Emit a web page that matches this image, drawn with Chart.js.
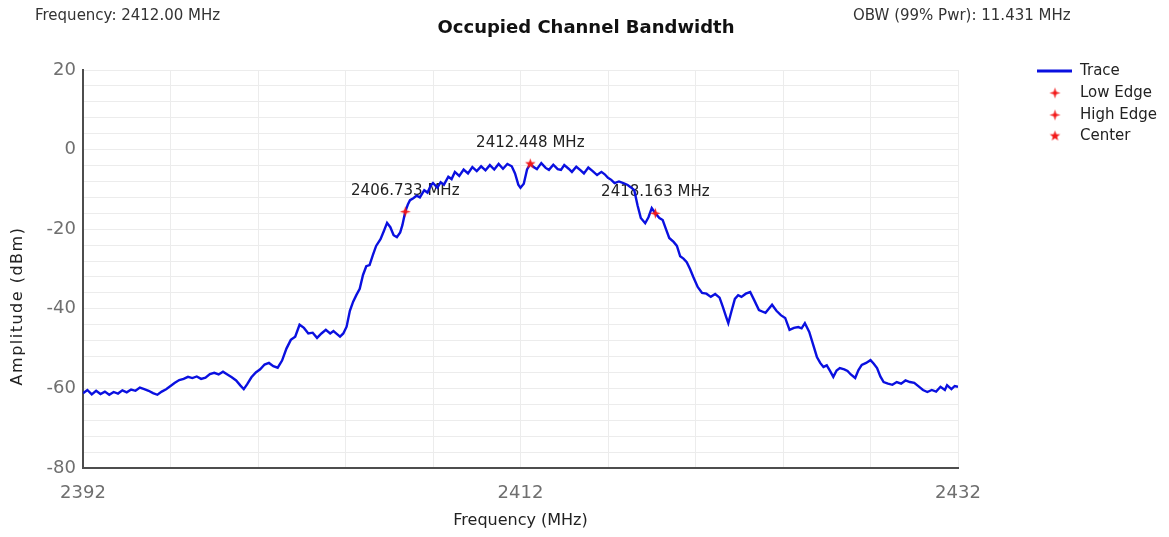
<!DOCTYPE html>
<html>
<head>
<meta charset="utf-8">
<title>Occupied Channel Bandwidth</title>
<script src="https://cdn.jsdelivr.net/npm/chart.js@4.4.1/dist/chart.umd.min.js"></script>
<style>
  body { margin: 0; background: #fff; }
  #wrap { width: 1169px; height: 537px; }
</style>
</head>
<body>
<div id="wrap"><canvas id="obw-chart" width="1169" height="537"></canvas></div>
<script>
// Trace (MHz, dBm)
const traceFreq = [
  2392.0, 2392.2, 2392.4, 2392.6, 2392.8, 2393.0, 2393.2, 2393.4, 2393.6, 2393.8,
  2394.0, 2394.2, 2394.4, 2394.6, 2394.8, 2395.0, 2395.2, 2395.4, 2395.6, 2395.8,
  2396.0, 2396.2, 2396.4, 2396.6, 2396.8, 2397.0, 2397.2, 2397.4, 2397.6, 2397.8,
  2398.0, 2398.2, 2398.4, 2398.6, 2398.8, 2399.0, 2399.2, 2399.35, 2399.5, 2399.7,
  2399.9, 2400.1, 2400.3, 2400.5, 2400.7, 2400.9, 2401.1, 2401.3, 2401.5, 2401.7,
  2401.9, 2402.1, 2402.3, 2402.5, 2402.7, 2402.9, 2403.1, 2403.3, 2403.45, 2403.6,
  2403.75, 2403.9, 2404.05, 2404.2, 2404.35, 2404.5, 2404.65, 2404.8, 2404.95, 2405.1,
  2405.25, 2405.4, 2405.6, 2405.75, 2405.9, 2406.05, 2406.2, 2406.35, 2406.5, 2406.6,
  2406.733, 2406.85, 2406.95, 2407.1, 2407.25, 2407.4, 2407.6, 2407.75, 2407.9, 2408.0,
  2408.2, 2408.35, 2408.5, 2408.7, 2408.85, 2409.0, 2409.2, 2409.4, 2409.6, 2409.8,
  2410.0, 2410.2, 2410.4, 2410.6, 2410.8, 2411.0, 2411.2, 2411.4, 2411.6, 2411.75,
  2411.9, 2412.0, 2412.15, 2412.3, 2412.448, 2412.6, 2412.75, 2412.95, 2413.15, 2413.3,
  2413.5, 2413.7, 2413.85, 2414.0, 2414.2, 2414.35, 2414.55, 2414.75, 2414.9, 2415.1,
  2415.3, 2415.5, 2415.7, 2415.85, 2416.0, 2416.15, 2416.3, 2416.5, 2416.7, 2416.9,
  2417.05, 2417.2, 2417.35, 2417.5, 2417.7, 2417.85, 2418.0, 2418.163, 2418.35, 2418.5,
  2418.65, 2418.8, 2419.0, 2419.15, 2419.3, 2419.45, 2419.6, 2419.75, 2419.9, 2420.1,
  2420.3, 2420.5, 2420.7, 2420.9, 2421.1, 2421.25, 2421.4, 2421.5, 2421.65, 2421.8,
  2421.95, 2422.1, 2422.3, 2422.5, 2422.7, 2422.9, 2423.1, 2423.2, 2423.35, 2423.5,
  2423.7, 2423.9, 2424.1, 2424.3, 2424.5, 2424.7, 2424.85, 2425.0, 2425.2, 2425.35,
  2425.55, 2425.7, 2425.85, 2426.0, 2426.15, 2426.3, 2426.45, 2426.6, 2426.8, 2426.95,
  2427.1, 2427.3, 2427.45, 2427.6, 2427.8, 2428.0, 2428.15, 2428.3, 2428.45, 2428.6,
  2428.8, 2429.0, 2429.2, 2429.4, 2429.6, 2429.8, 2430.0, 2430.2, 2430.4, 2430.6,
  2430.8, 2431.0, 2431.2, 2431.4, 2431.5, 2431.7, 2431.85, 2432.0
];
const traceAmp = [
  -61.2, -60.4, -61.5, -60.6, -61.4, -60.8, -61.6, -60.9, -61.3, -60.5,
  -61.0, -60.3, -60.6, -59.8, -60.2, -60.6, -61.2, -61.6, -60.8, -60.2,
  -59.4, -58.6, -57.9, -57.6, -57.1, -57.4, -57.0, -57.6, -57.3, -56.4,
  -56.1, -56.5, -55.8, -56.5, -57.2, -58.0, -59.3, -60.2, -59.0, -57.2,
  -56.0, -55.2, -54.0, -53.6, -54.4, -54.8, -53.0, -50.0, -47.8, -47.0,
  -44.0, -44.8, -46.2, -46.0, -47.3, -46.2, -45.3, -46.2, -45.6, -46.3,
  -47.0, -46.2, -44.5, -40.5, -38.2, -36.5, -35.0, -31.5, -29.3, -29.0,
  -26.5, -24.2, -22.5, -20.5, -18.4, -19.5, -21.5, -22.0, -20.8, -19.0,
  -15.6, -13.8, -12.7, -12.2, -11.6, -12.0, -10.2, -10.8, -9.0, -8.4,
  -9.6, -8.2, -8.8, -6.8, -7.4, -5.6, -6.6, -5.0, -6.0, -4.4,
  -5.4, -4.2, -5.2, -3.9, -5.0, -3.6, -4.8, -3.6, -4.2, -6.0,
  -8.8, -9.6, -8.6, -5.0, -3.6, -4.4, -4.9, -3.4, -4.6, -5.1,
  -3.8, -4.9, -5.1, -3.9, -4.8, -5.6, -4.3, -5.2, -6.0, -4.5,
  -5.4, -6.4, -5.6, -6.2, -7.1, -7.6, -8.4, -8.0, -8.4, -8.9,
  -9.5, -10.2, -14.0, -17.2, -18.5, -17.0, -14.7, -16.0, -17.2, -17.7,
  -20.0, -22.2, -23.2, -24.2, -26.8, -27.4, -28.3, -30.0, -32.0, -34.5,
  -36.0, -36.2, -37.0, -36.3, -37.2, -39.5, -42.0, -43.6, -40.5, -37.5,
  -36.6, -37.0, -36.2, -35.8, -38.0, -40.3, -40.8, -41.0, -40.0, -39.0,
  -40.5, -41.6, -42.3, -45.3, -44.8, -44.6, -44.9, -43.6, -45.8, -48.5,
  -52.1, -53.6, -54.6, -54.2, -55.6, -57.1, -55.5, -54.9, -55.2, -55.6,
  -56.5, -57.4, -55.4, -54.1, -53.6, -52.9, -53.8, -54.9, -57.0, -58.4,
  -58.8, -59.1, -58.4, -58.8, -58.0, -58.4, -58.6, -59.5, -60.4, -60.9,
  -60.4, -60.8, -59.6, -60.4, -59.2, -60.2, -59.4, -59.6
];

// OBW markers
const markerNames = ['Low Edge', 'High Edge', 'Center'];
const markerFreq = [2406.733, 2418.163, 2412.448];
const markerAmp = [-15.6, -16.0, -3.6];

// axis ticks
const xMin = 2392, xMax = 2432, xStep = 4, xLabelEvery = 20;
const yMin = -80, yMax = 20, yStep = 4, yLabelEvery = 20;

const centerFreq = 2412.00;
const obwValue = 11.431;

const TRACE_BLUE = '#0a10e0';
const MARK_RED = '#f21818';

// little star images for the markers
function starImage(points, outer, inner, color) {
    const size = outer * 2 + 2;
    const c = document.createElement('canvas');
    c.width = size;
    c.height = size;
    const g = c.getContext('2d');
    g.fillStyle = color;
    g.beginPath();
    for (let i = 0; i < points * 2; i++) {
        const r = i % 2 === 0 ? outer : inner;
        const a = -Math.PI / 2 + i * Math.PI / points;
        const px = size / 2 + r * Math.cos(a);
        const py = size / 2 + r * Math.sin(a);
        if (i === 0) g.moveTo(px, py); else g.lineTo(px, py);
    }
    g.closePath();
    g.fill();
    return c;
}
const edgeStar = starImage(4, 5.5, 1.8, MARK_RED);
const centerStar = starImage(5, 5.5, 2.3, MARK_RED);
const markerImgs = [edgeStar, edgeStar, centerStar];

const FONT = "'DejaVu Sans', 'Liberation Sans', Arial, sans-serif";

// marker labels go under the trace, like in the original plot
const markerLabels = {
    id: 'markerLabels',
    beforeDatasetsDraw(chart) {
        const ctx = chart.ctx;
        ctx.save();
        ctx.font = '15px ' + FONT;
        ctx.fillStyle = '#222';
        ctx.textAlign = 'center';
        ctx.textBaseline = 'middle';
        markerFreq.forEach((f, i) => {
            const px = chart.scales.x.getPixelForValue(f);
            const py = chart.scales.y.getPixelForValue(markerAmp[i]);
            ctx.fillText(f.toFixed(3) + ' MHz', px, py - 21);
        });
        ctx.restore();
    }
};

// header texts, axis titles and legend on the right
const headerAndLegend = {
    id: 'headerAndLegend',
    afterDraw(chart) {
        const ctx = chart.ctx;
        const area = chart.chartArea;
        ctx.save();
        ctx.textBaseline = 'middle';

        ctx.font = '15px ' + FONT;
        ctx.fillStyle = '#333';
        ctx.textAlign = 'left';
        ctx.fillText('Frequency: ' + centerFreq.toFixed(2) + ' MHz', 35, 16);
        ctx.fillText('OBW (99% Pwr): ' + obwValue.toFixed(3) + ' MHz', 853, 16);

        ctx.font = 'bold 18px ' + FONT;
        ctx.fillStyle = '#111';
        ctx.textAlign = 'center';
        ctx.fillText('Occupied Channel Bandwidth', 586, 28);

        // axis titles
        ctx.font = '16px ' + FONT;
        ctx.fillStyle = '#222';
        ctx.fillText('Frequency (MHz)', (area.left + area.right) / 2, 521);
        ctx.save();
        ctx.translate(18, 306);
        ctx.rotate(-Math.PI / 2);
        ctx.letterSpacing = '1.5px';
        ctx.fillText('Amplitude (dBm)', 0, 0);
        ctx.restore();

        // legend
        const lx = 1037, tx = 1080;
        const rows = [71, 93, 115, 136];
        ctx.strokeStyle = TRACE_BLUE;
        ctx.lineWidth = 3;
        ctx.beginPath();
        ctx.moveTo(lx, rows[0]);
        ctx.lineTo(lx + 35, rows[0]);
        ctx.stroke();
        ctx.font = '15px ' + FONT;
        ctx.fillStyle = '#222';
        ctx.textAlign = 'left';
        ctx.fillText('Trace', tx, rows[0]);
        markerNames.forEach((name, i) => {
            const img = markerImgs[i];
            ctx.drawImage(img, 1055 - img.width / 2, rows[i + 1] - img.height / 2);
            ctx.fillText(name, tx, rows[i + 1]);
        });
        ctx.restore();
    }
};

const datasets = [{
    label: 'Trace',
    data: traceFreq.map((f, i) => ({ x: f, y: traceAmp[i] })),
    showLine: true,
    borderColor: TRACE_BLUE,
    borderWidth: 2.4,
    pointRadius: 0,
    tension: 0,
    order: 2
}];
markerNames.forEach((name, i) => {
    datasets.push({
        label: name,
        data: [{ x: markerFreq[i], y: markerAmp[i] }],
        pointStyle: markerImgs[i],
        pointRadius: 5,
        showLine: false,
        order: 1
    });
});

const ctx = document.getElementById('obw-chart').getContext('2d');
new Chart(ctx, {
    type: 'scatter',
    data: { datasets: datasets },
    plugins: [markerLabels, headerAndLegend],
    options: {
        responsive: false,
        animation: false,
        layout: { padding: { left: 0, right: 211, top: 70, bottom: 0 } },
        plugins: {
            legend: { display: false },
            title: { display: false },
            tooltip: { enabled: false }
        },
        scales: {
            x: {
                type: 'linear',
                min: xMin,
                max: xMax,
                afterFit: s => { s.height = 69; },
                ticks: {
                    stepSize: xStep,
                    autoSkip: false,
                    maxRotation: 0,
                    padding: 15,
                    color: '#6f6f6f',
                    font: { family: FONT, size: 18 },
                    callback: v => ((v - xMin) % xLabelEvery === 0 ? String(v) : '')
                },
                grid: { color: '#ececec', drawTicks: false },
                border: { color: '#4d4d4d', width: 2 }
            },
            y: {
                min: yMin,
                max: yMax,
                afterFit: s => { s.width = 83; },
                ticks: {
                    stepSize: yStep,
                    autoSkip: false,
                    padding: 7,
                    color: '#6f6f6f',
                    font: { family: FONT, size: 18 },
                    callback: v => (v % yLabelEvery === 0 ? String(v) : '')
                },
                grid: { color: '#ececec', drawTicks: false },
                border: { color: '#4d4d4d', width: 2 }
            }
        }
    }
});
</script>
</body>
</html>
